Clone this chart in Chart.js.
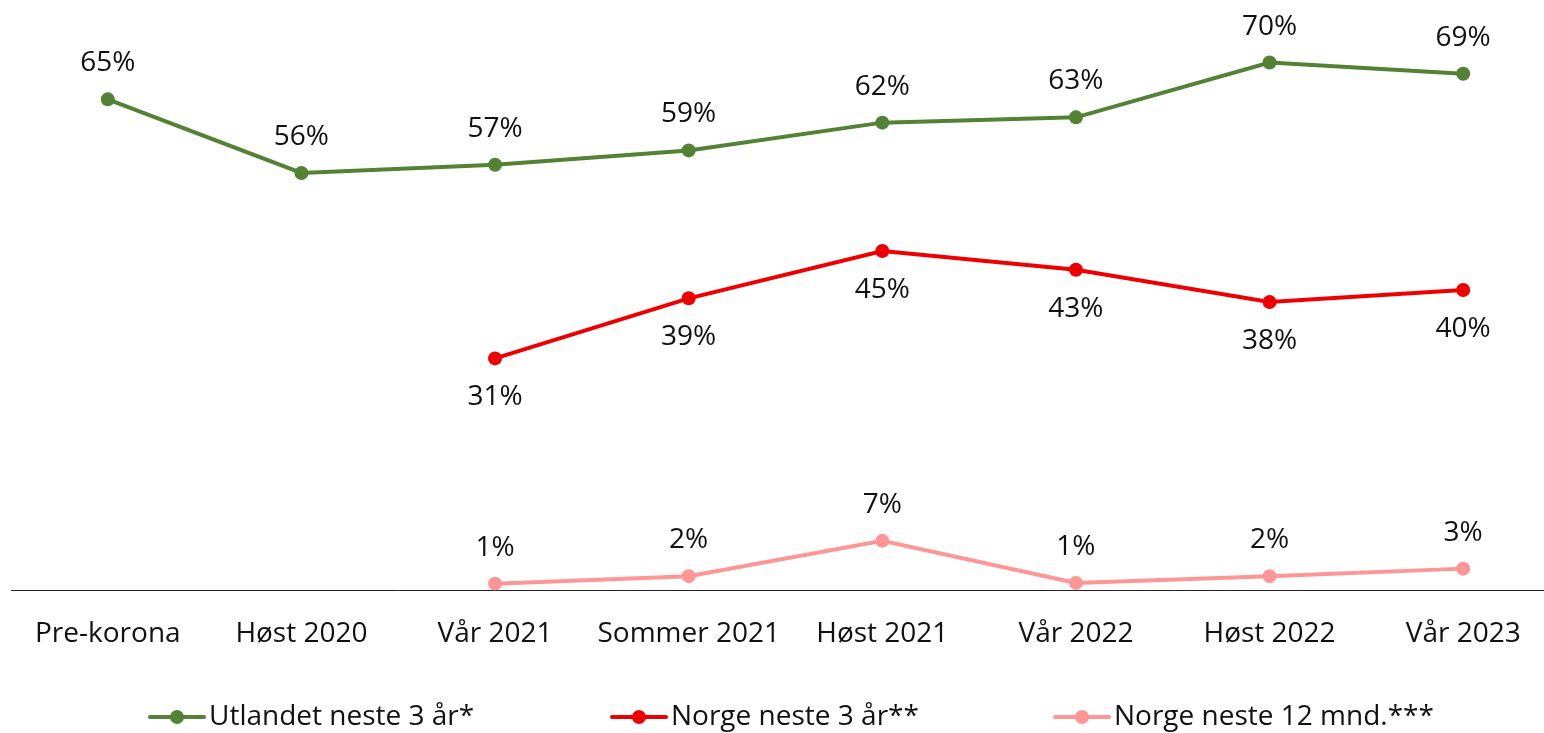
<!DOCTYPE html>
<html>
<head>
    <title>Reiseplaner</title>
    <script src="https://cdn.jsdelivr.net/npm/chart.js"></script>
    <style>
        html, body { margin: 0; padding: 0; overflow: hidden; background: #fff; }
        #wrap { width: 1567px; height: 733px; }
    </style>
</head>
<body>
    <div id="wrap"><canvas id="travelChart"></canvas></div>

    <script>
        // Data (points are plotted unrounded, labels show whole percent)
        const periods = ['Pre-korona', 'Høst 2020', 'Vår 2021', 'Sommer 2021', 'Høst 2021', 'Vår 2022', 'Høst 2022', 'Vår 2023'];
        const utlandet3 = [65.4, 55.6, 56.7, 58.6, 62.3, 63.0, 70.3, 68.8];
        const norge3 = [null, null, 30.9, 38.9, 45.2, 42.7, 38.4, 40.0];
        const norge12 = [null, null, 0.9, 1.9, 6.6, 1.0, 1.9, 2.9];
        const seriesNames = ['Utlandet neste 3 år*', 'Norge neste 3 år**', 'Norge neste 12 mnd.***'];

        const FONT = '"Open Sans", Roboto, sans-serif';
        const FSIZE = 28;

        // percent labels above / below the points
        const valueLabels = {
            id: 'valueLabels',
            afterDatasetsDraw(chart) {
                const ctx = chart.ctx;
                ctx.save();
                ctx.font = FSIZE + 'px ' + FONT;
                ctx.fillStyle = '#111';
                ctx.textAlign = 'center';
                ctx.textBaseline = 'middle';
                chart.data.datasets.forEach((ds, i) => {
                    const meta = chart.getDatasetMeta(i);
                    meta.data.forEach((pt, j) => {
                        if (ds.data[j] == null) return;
                        const dy = ds.labelPos === 'below' ? 39 : -36;
                        ctx.fillText(Math.round(ds.data[j]) + '%', pt.x, pt.y + dy);
                    });
                });
                ctx.restore();
            }
        };

        // legend with line + dot markers
        const lineLegend = {
            id: 'lineLegend',
            afterDraw(chart) {
                const ctx = chart.ctx;
                const xs = [150, 612, 1055];
                const y = 717;
                ctx.save();
                ctx.font = FSIZE + 'px ' + FONT;
                ctx.textBaseline = 'middle';
                chart.data.datasets.forEach((ds, i) => {
                    const x = xs[i];
                    ctx.strokeStyle = ds.borderColor;
                    ctx.lineWidth = 4;
                    ctx.lineCap = 'round';
                    ctx.beginPath();
                    ctx.moveTo(x, y);
                    ctx.lineTo(x + 54, y);
                    ctx.stroke();
                    ctx.fillStyle = ds.borderColor;
                    ctx.beginPath();
                    ctx.arc(x + 27, y, 7, 0, Math.PI * 2);
                    ctx.fill();
                    ctx.fillStyle = '#111';
                    ctx.fillText(ds.label, x + 59, y);
                });
                ctx.restore();
            }
        };

        const ctx = document.getElementById('travelChart').getContext('2d');
        new Chart(ctx, {
            type: 'line',
            data: {
                labels: periods,
                datasets: [{
                    label: seriesNames[0],
                    data: utlandet3,
                    borderColor: '#548235',
                    backgroundColor: '#548235',
                    labelPos: 'above'
                }, {
                    label: seriesNames[1],
                    data: norge3,
                    borderColor: '#EE0000',
                    backgroundColor: '#EE0000',
                    labelPos: 'below'
                }, {
                    label: seriesNames[2],
                    data: norge12,
                    borderColor: '#FF9696',
                    backgroundColor: '#FF9696',
                    labelPos: 'above'
                }]
            },
            options: {
                responsive: true,
                maintainAspectRatio: false,
                animation: false,
                elements: {
                    line: { borderWidth: 4, tension: 0 },
                    point: { radius: 7, hoverRadius: 7, borderWidth: 0 }
                },
                layout: { padding: { left: 11, right: 1, top: 0, bottom: 63 } },
                plugins: {
                    legend: { display: false },
                    tooltip: { enabled: false }
                },
                scales: {
                    x: {
                        offset: true,
                        grid: { display: false, offset: true },
                        border: { display: true, color: '#222', width: 1 },
                        ticks: { color: '#111', font: { family: FONT, size: FSIZE }, padding: 19, maxRotation: 0 }
                    },
                    y: {
                        display: false,
                        min: 0,
                        max: 77.7
                    }
                }
            },
            plugins: [valueLabels, lineLegend]
        });
    </script>
</body>
</html>
